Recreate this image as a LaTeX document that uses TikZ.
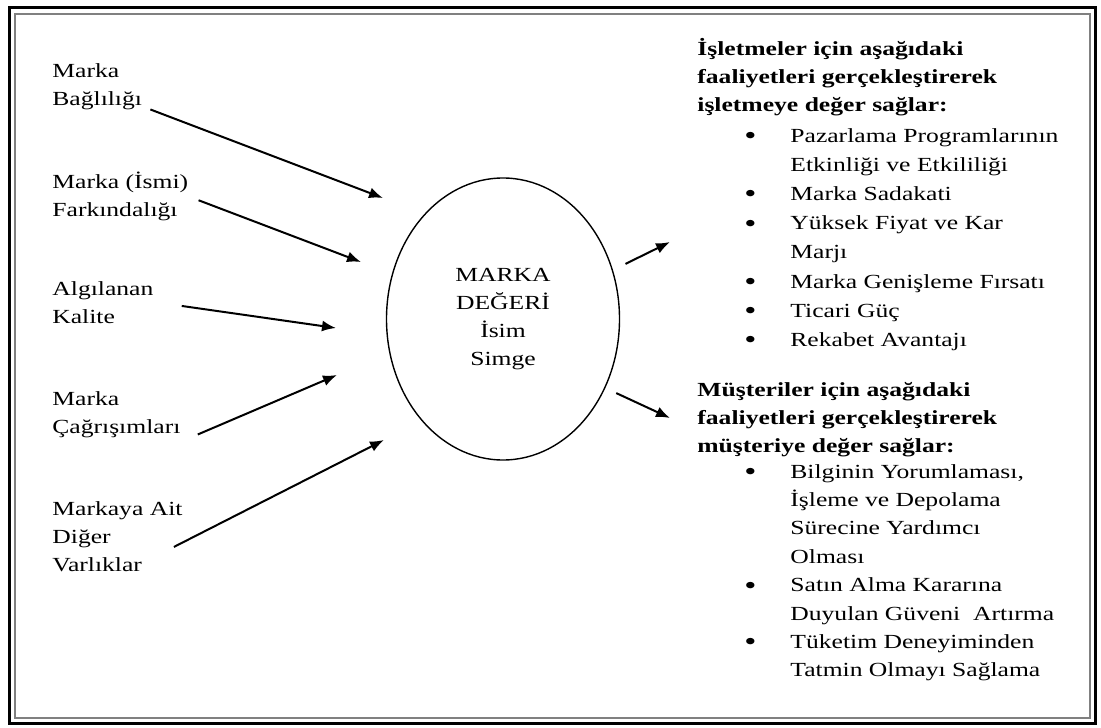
\documentclass[tikz,border=0pt]{standalone}
\usepackage{fontspec}
\setmainfont[FakeStretch=1.28]{Liberation Serif}
\usetikzlibrary{arrows.meta}
\usetikzlibrary{positioning}
\usetikzlibrary{shapes.geometric}
\newcommand\blt{\makebox[0pt][r]{\raisebox{-1.2pt}{\scalebox{1.35}{\textbullet}}\hspace{17pt}}}
\tikzset{
  etiket/.style={align=left,inner sep=0pt,anchor=north west,
    font=\fontsize{10}{14}\selectfont,execute at begin node=\strut},
  baslik/.style={etiket,font=\fontsize{10}{14}\selectfont\bfseries},
  liste/.style={etiket,font=\fontsize{10}{14.2}\selectfont},
}
\begin{document}
\begin{tikzpicture}[x=0.5pt,y=-0.5pt,>={Latex[length=7pt,width=5.5pt]}]
   \useasboundingbox (0,0) rectangle (1101,727);
   \draw[line width=1.5pt] (9,8) rectangle (1095,723);
   \draw[gray,line width=1pt] (15,14) rectangle (1090,718);

   \node[etiket] (bag)  at (52,63.4)  {Marka\\Bağlılığı};
   \node[etiket] (fark) at (52,171.4) {Marka (İsmi)\\Farkındalığı};
   \node[etiket] (kal)  at (52,281.4) {Algılanan\\Kalite};
   \node[etiket] (cag)  at (52,391.4) {Marka\\Çağrışımları};
   \node[etiket] (var)  at (52,501.4) {Markaya Ait\\Diğer\\Varlıklar};

   \node[draw,ellipse,line width=0.7pt,inner sep=0pt,minimum width=116.5pt,
     minimum height=141pt,align=center,font=\fontsize{10}{14}\selectfont]
     (deger) at (503,319) {MARKA\\DEĞERİ\\İsim\\Simge};

   \node[baslik] (isl) at (697,38.4)
     {İşletmeler için aşağıdaki\\faaliyetleri gerçekleştirerek\\işletmeye değer sağlar:};
   \node[liste,font=\fontsize{10}{14.6}\selectfont] (isl_l)
     [below right=3.5pt and 46.5pt of isl.south west,anchor=north west]
     {\blt Pazarlama Programlarının\\Etkinliği ve Etkililiği\\\blt Marka Sadakati\\
      \blt Yüksek Fiyat ve Kar\\Marjı\\\blt Marka Genişleme Fırsatı\\
      \blt Ticari Güç\\\blt Rekabet Avantajı};
   \node[baslik] (mus) [below left=13pt and 46.5pt of isl_l.south west,anchor=north west]
     {Müşteriler için aşağıdaki\\faaliyetleri gerçekleştirerek\\müşteriye değer sağlar:};
   \node[liste] (mus_l) [below right=1.5pt and 46.5pt of mus.south west,anchor=north west]
     {\blt Bilginin Yorumlaması,\\İşleme ve Depolama\\Sürecine Yardımcı\\Olması\\
      \blt Satın Alma Kararına\\Duyulan Güveni~~Artırma\\
      \blt Tüketim Deneyiminden\\Tatmin Olmayı Sağlama};

   \coordinate (t_1) at (383,198);
   \coordinate (t_2) at (361,262);
   \coordinate (t_3) at (336,328);
   \coordinate (t_4) at (337,375);
   \coordinate (t_5) at (384,440);
   \coordinate (t_6) at (670,242);
   \coordinate (t_7) at (670,418);

    \path[->,line width=1pt]
    ([shift={(8,-5)}]bag.south east) edge (t_1)
    ([shift={(10,2)}]fark.east) edge (t_2)
    ([shift={(28,-1)}]kal.east) edge (t_3)
    ([shift={(17,-8)}]cag.south east) edge (t_4)
    ([shift={(-9,6)}]var.east) edge (t_5)
    (deger.24) edge[shorten <=7pt] (t_6)
    (deger.-34) edge[shorten <=6pt] (t_7);
\end{tikzpicture}
\end{document}
